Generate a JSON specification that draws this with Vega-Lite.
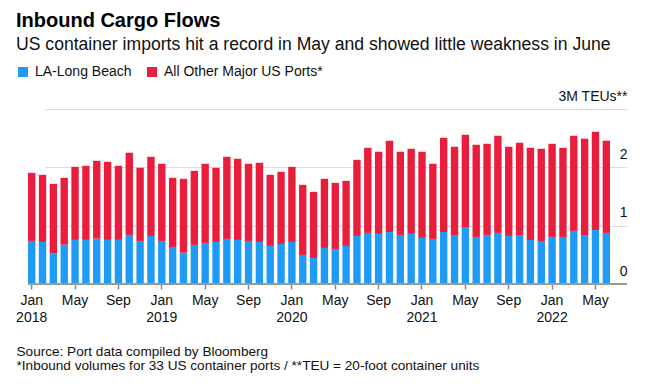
{
  "$schema": "https://vega.github.io/schema/vega-lite/v6.json",
  "autosize": "none",
  "width": 599,
  "height": 175,
  "padding": {"left": 28, "top": 109, "right": 25, "bottom": 104},
  "background": "white",
  "title": {
    "text": "Inbound Cargo Flows",
    "subtitle": "US container imports hit a record in May and showed little weakness in June",
    "anchor": "start",
    "frame": "group",
    "dx": -12,
    "font": "Liberation Sans",
    "fontSize": 20,
    "fontWeight": "bold",
    "color": "#000000",
    "subtitleFont": "Liberation Sans",
    "subtitleFontSize": 17.6,
    "subtitleColor": "#111111",
    "subtitlePadding": 5,
    "offset": 11
  },
  "config": {
    "view": {"stroke": null},
    "font": "Liberation Sans"
  },
  "data": {
    "values": [
      {"month": "2018-01", "series": "LA-Long Beach", "teu": 0.738}, {"month": "2018-01", "series": "All Other Major US Ports*", "teu": 1.168},
      {"month": "2018-02", "series": "LA-Long Beach", "teu": 0.721}, {"month": "2018-02", "series": "All Other Major US Ports*", "teu": 1.151},
      {"month": "2018-03", "series": "LA-Long Beach", "teu": 0.521}, {"month": "2018-03", "series": "All Other Major US Ports*", "teu": 1.196},
      {"month": "2018-04", "series": "LA-Long Beach", "teu": 0.675}, {"month": "2018-04", "series": "All Other Major US Ports*", "teu": 1.145},
      {"month": "2018-05", "series": "LA-Long Beach", "teu": 0.756}, {"month": "2018-05", "series": "All Other Major US Ports*", "teu": 1.253},
      {"month": "2018-06", "series": "LA-Long Beach", "teu": 0.756}, {"month": "2018-06", "series": "All Other Major US Ports*", "teu": 1.270},
      {"month": "2018-07", "series": "LA-Long Beach", "teu": 0.778}, {"month": "2018-07", "series": "All Other Major US Ports*", "teu": 1.334},
      {"month": "2018-08", "series": "LA-Long Beach", "teu": 0.756}, {"month": "2018-08", "series": "All Other Major US Ports*", "teu": 1.339},
      {"month": "2018-09", "series": "LA-Long Beach", "teu": 0.756}, {"month": "2018-09", "series": "All Other Major US Ports*", "teu": 1.270},
      {"month": "2018-10", "series": "LA-Long Beach", "teu": 0.841}, {"month": "2018-10", "series": "All Other Major US Ports*", "teu": 1.409},
      {"month": "2018-11", "series": "LA-Long Beach", "teu": 0.738}, {"month": "2018-11", "series": "All Other Major US Ports*", "teu": 1.254},
      {"month": "2018-12", "series": "LA-Long Beach", "teu": 0.824}, {"month": "2018-12", "series": "All Other Major US Ports*", "teu": 1.357},
      {"month": "2019-01", "series": "LA-Long Beach", "teu": 0.738}, {"month": "2019-01", "series": "All Other Major US Ports*", "teu": 1.323},
      {"month": "2019-02", "series": "LA-Long Beach", "teu": 0.635}, {"month": "2019-02", "series": "All Other Major US Ports*", "teu": 1.185},
      {"month": "2019-03", "series": "LA-Long Beach", "teu": 0.538}, {"month": "2019-03", "series": "All Other Major US Ports*", "teu": 1.265},
      {"month": "2019-04", "series": "LA-Long Beach", "teu": 0.670}, {"month": "2019-04", "series": "All Other Major US Ports*", "teu": 1.270},
      {"month": "2019-05", "series": "LA-Long Beach", "teu": 0.704}, {"month": "2019-05", "series": "All Other Major US Ports*", "teu": 1.357},
      {"month": "2019-06", "series": "LA-Long Beach", "teu": 0.721}, {"month": "2019-06", "series": "All Other Major US Ports*", "teu": 1.271},
      {"month": "2019-07", "series": "LA-Long Beach", "teu": 0.773}, {"month": "2019-07", "series": "All Other Major US Ports*", "teu": 1.408},
      {"month": "2019-08", "series": "LA-Long Beach", "teu": 0.756}, {"month": "2019-08", "series": "All Other Major US Ports*", "teu": 1.391},
      {"month": "2019-09", "series": "LA-Long Beach", "teu": 0.738}, {"month": "2019-09", "series": "All Other Major US Ports*", "teu": 1.323},
      {"month": "2019-10", "series": "LA-Long Beach", "teu": 0.721}, {"month": "2019-10", "series": "All Other Major US Ports*", "teu": 1.357},
      {"month": "2019-11", "series": "LA-Long Beach", "teu": 0.653}, {"month": "2019-11", "series": "All Other Major US Ports*", "teu": 1.219},
      {"month": "2019-12", "series": "LA-Long Beach", "teu": 0.687}, {"month": "2019-12", "series": "All Other Major US Ports*", "teu": 1.236},
      {"month": "2020-01", "series": "LA-Long Beach", "teu": 0.721}, {"month": "2020-01", "series": "All Other Major US Ports*", "teu": 1.288},
      {"month": "2020-02", "series": "LA-Long Beach", "teu": 0.498}, {"month": "2020-02", "series": "All Other Major US Ports*", "teu": 1.202},
      {"month": "2020-03", "series": "LA-Long Beach", "teu": 0.446}, {"month": "2020-03", "series": "All Other Major US Ports*", "teu": 1.134},
      {"month": "2020-04", "series": "LA-Long Beach", "teu": 0.618}, {"month": "2020-04", "series": "All Other Major US Ports*", "teu": 1.185},
      {"month": "2020-05", "series": "LA-Long Beach", "teu": 0.601}, {"month": "2020-05", "series": "All Other Major US Ports*", "teu": 1.133},
      {"month": "2020-06", "series": "LA-Long Beach", "teu": 0.653}, {"month": "2020-06", "series": "All Other Major US Ports*", "teu": 1.116},
      {"month": "2020-07", "series": "LA-Long Beach", "teu": 0.824}, {"month": "2020-07", "series": "All Other Major US Ports*", "teu": 1.305},
      {"month": "2020-08", "series": "LA-Long Beach", "teu": 0.876}, {"month": "2020-08", "series": "All Other Major US Ports*", "teu": 1.459},
      {"month": "2020-09", "series": "LA-Long Beach", "teu": 0.859}, {"month": "2020-09", "series": "All Other Major US Ports*", "teu": 1.408},
      {"month": "2020-10", "series": "LA-Long Beach", "teu": 0.893}, {"month": "2020-10", "series": "All Other Major US Ports*", "teu": 1.563},
      {"month": "2020-11", "series": "LA-Long Beach", "teu": 0.841}, {"month": "2020-11", "series": "All Other Major US Ports*", "teu": 1.426},
      {"month": "2020-12", "series": "LA-Long Beach", "teu": 0.859}, {"month": "2020-12", "series": "All Other Major US Ports*", "teu": 1.459},
      {"month": "2021-01", "series": "LA-Long Beach", "teu": 0.790}, {"month": "2021-01", "series": "All Other Major US Ports*", "teu": 1.477},
      {"month": "2021-02", "series": "LA-Long Beach", "teu": 0.773}, {"month": "2021-02", "series": "All Other Major US Ports*", "teu": 1.288},
      {"month": "2021-03", "series": "LA-Long Beach", "teu": 0.893}, {"month": "2021-03", "series": "All Other Major US Ports*", "teu": 1.614},
      {"month": "2021-04", "series": "LA-Long Beach", "teu": 0.841}, {"month": "2021-04", "series": "All Other Major US Ports*", "teu": 1.512},
      {"month": "2021-05", "series": "LA-Long Beach", "teu": 0.979}, {"month": "2021-05", "series": "All Other Major US Ports*", "teu": 1.580},
      {"month": "2021-06", "series": "LA-Long Beach", "teu": 0.807}, {"month": "2021-06", "series": "All Other Major US Ports*", "teu": 1.580},
      {"month": "2021-07", "series": "LA-Long Beach", "teu": 0.841}, {"month": "2021-07", "series": "All Other Major US Ports*", "teu": 1.563},
      {"month": "2021-08", "series": "LA-Long Beach", "teu": 0.876}, {"month": "2021-08", "series": "All Other Major US Ports*", "teu": 1.665},
      {"month": "2021-09", "series": "LA-Long Beach", "teu": 0.824}, {"month": "2021-09", "series": "All Other Major US Ports*", "teu": 1.529},
      {"month": "2021-10", "series": "LA-Long Beach", "teu": 0.841}, {"month": "2021-10", "series": "All Other Major US Ports*", "teu": 1.580},
      {"month": "2021-11", "series": "LA-Long Beach", "teu": 0.756}, {"month": "2021-11", "series": "All Other Major US Ports*", "teu": 1.579},
      {"month": "2021-12", "series": "LA-Long Beach", "teu": 0.738}, {"month": "2021-12", "series": "All Other Major US Ports*", "teu": 1.580},
      {"month": "2022-01", "series": "LA-Long Beach", "teu": 0.807}, {"month": "2022-01", "series": "All Other Major US Ports*", "teu": 1.597},
      {"month": "2022-02", "series": "LA-Long Beach", "teu": 0.807}, {"month": "2022-02", "series": "All Other Major US Ports*", "teu": 1.528},
      {"month": "2022-03", "series": "LA-Long Beach", "teu": 0.910}, {"month": "2022-03", "series": "All Other Major US Ports*", "teu": 1.631},
      {"month": "2022-04", "series": "LA-Long Beach", "teu": 0.841}, {"month": "2022-04", "series": "All Other Major US Ports*", "teu": 1.649},
      {"month": "2022-05", "series": "LA-Long Beach", "teu": 0.927}, {"month": "2022-05", "series": "All Other Major US Ports*", "teu": 1.683},
      {"month": "2022-06", "series": "LA-Long Beach", "teu": 0.876}, {"month": "2022-06", "series": "All Other Major US Ports*", "teu": 1.580}
    ]
  },
  "layer": [
    {
      "mark": {"type": "bar"},
      "encoding": {
        "x": {
          "field": "month",
          "type": "ordinal",
          "scale": {"range": [0, 582], "paddingInner": 0.32, "paddingOuter": 0},
          "axis": {
            "values": ["2018-01","2018-05","2018-09","2019-01","2019-05","2019-09","2020-01","2020-05","2020-09","2021-01","2021-05","2021-09","2022-01","2022-05"],
            "labelExpr": "slice(datum.value, 5) == '01' ? ['Jan', slice(datum.value, 0, 4)] : (slice(datum.value, 5) == '05' ? 'May' : 'Sep')",
            "labelAngle": 0,
            "labelFontSize": 14,
            "labelColor": "#111111",
            "labelLineHeight": 17,
            "labelPadding": 4,
            "domain": false,
            "ticks": true,
            "tickSize": 5,
            "tickWidth": 1.5,
            "tickColor": "#888888",
            "grid": false,
            "title": ["Source: Port data compiled by Bloomberg", "*Inbound volumes for 33 US container ports / **TEU = 20-foot container units"],
            "titleFontSize": 13.6,
            "titleFontWeight": "normal",
            "titleColor": "#111111",
            "titleAnchor": "start",
            "titleAlign": "left",
            "titleBaseline": "alphabetic",
            "titleLineHeight": 14.5,
            "titleX": -12,
            "titleY": 71
          }
        },
        "y": {
          "field": "teu",
          "type": "quantitative",
          "stack": "zero",
          "scale": {"domain": [0, 3]},
          "axis": {
            "orient": "right",
            "values": [0, 1, 2, 3],
            "format": "d",
            "labelExpr": "datum.value == 3 ? '3M TEUs**' : datum.label",
            "labelAlign": "right",
            "labelBaseline": "alphabetic",
            "labelOffset": -9,
            "labelPadding": 0,
            "labelFontSize": 14,
            "labelColor": "#111111",
            "ticks": false,
            "tickSize": 0,
            "domain": false,
            "grid": true,
            "gridColor": "#dddddd",
            "gridWidth": 1,
            "title": null
          }
        },
        "color": {
          "field": "series",
          "type": "nominal",
          "sort": ["LA-Long Beach", "All Other Major US Ports*"],
          "scale": {"domain": ["LA-Long Beach", "All Other Major US Ports*"], "range": ["#1f9af5", "#e91e3c"]},
          "legend": {
            "orient": "none",
            "legendX": -12,
            "legendY": -44,
            "direction": "horizontal",
            "title": null,
            "symbolType": "square",
            "symbolSize": 100,
            "symbolStrokeWidth": 0,
            "labelFontSize": 14,
            "labelColor": "#111111",
            "labelOffset": 5,
            "columnPadding": 13
          }
        },
        "order": {"field": "series", "sort": "descending"}
      }
    },
    {
      "mark": {"type": "rule", "color": "#999999", "strokeWidth": 2},
      "encoding": {"y": {"datum": 0}}
    }
  ]
}
